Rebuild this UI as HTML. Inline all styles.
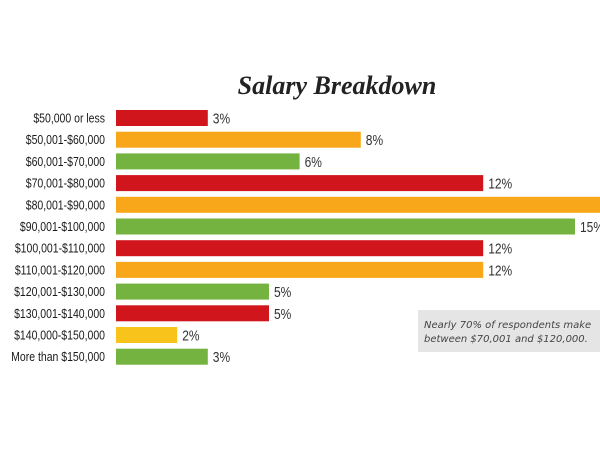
<!DOCTYPE html>
<html><head><meta charset="utf-8">
<style>
body{margin:0;background:#fff;}
#wrap{position:relative;width:600px;height:450px;overflow:hidden;background:#fff;}
svg text{font-family:"Liberation Sans",sans-serif;}
</style></head>
<body>
<div id="wrap">
<svg id="chart" width="600" height="450">
<text x="337" y="94" text-anchor="middle" style="font-family:'Liberation Serif',serif;font-weight:bold;font-style:italic;font-size:26px;fill:#222">Salary Breakdown</text>
<rect x="418" y="310" width="182" height="42" fill="#e5e5e5"/>
<text x="424" y="328" style="font-family:'DejaVu Sans',sans-serif;font-style:italic;font-size:10px;fill:#444">Nearly 70% of respondents make</text>
<text x="424" y="342" style="font-family:'DejaVu Sans',sans-serif;font-style:italic;font-size:10px;fill:#444">between $70,001 and $120,000.</text>
</svg>
</div>
<script>
const categories=["$50,000 or less","$50,001-$60,000","$60,001-$70,000","$70,001-$80,000","$80,001-$90,000","$90,001-$100,000","$100,001-$110,000","$110,001-$120,000","$120,001-$130,000","$130,001-$140,000","$140,000-$150,000","More than $150,000"];
const values=[3,8,6,12,17,15,12,12,5,5,2,3];
const colors=["#d0151d","#f8a71b","#74b33f","#d0151d","#f8a71b","#74b33f","#d0151d","#f8a71b","#74b33f","#d0151d","#f8c41b","#74b33f"];
const svg=document.getElementById('chart');
const NS="http://www.w3.org/2000/svg";
const x0=116,pxPer=30.6,y0=118,step=21.7,bh=16;
function xScale(v){return v*pxPer;}
function yScale(i){return y0+i*step;}
categories.forEach((c,i)=>{
  const yc=yScale(i);
  const t=document.createElementNS(NS,'text');
  t.setAttribute('x',0);t.setAttribute('y',0);
  t.setAttribute('transform','translate(105,'+(yc+4.5)+') scale(0.82,1)');
  t.setAttribute('text-anchor','end');
  t.setAttribute('font-size','12.8');t.setAttribute('fill','#1a1a1a');
  t.textContent=c;
  
  
  svg.appendChild(t);
  const r=document.createElementNS(NS,'rect');
  r.setAttribute('x',x0);r.setAttribute('y',yc-bh/2);
  r.setAttribute('width',xScale(values[i]));r.setAttribute('height',bh);
  r.setAttribute('fill',colors[i]);
  
  
  svg.appendChild(r);
  const v=document.createElementNS(NS,'text');
  v.setAttribute('x',0);v.setAttribute('y',0);
  v.setAttribute('transform','translate('+(x0+xScale(values[i])+5)+','+(yc+5.5)+') scale(0.8,1)');
  v.setAttribute('font-size','15');v.setAttribute('fill','#333');
  v.textContent=values[i]+'%';
  
  
  svg.appendChild(v);
});
</script>
</body></html>
